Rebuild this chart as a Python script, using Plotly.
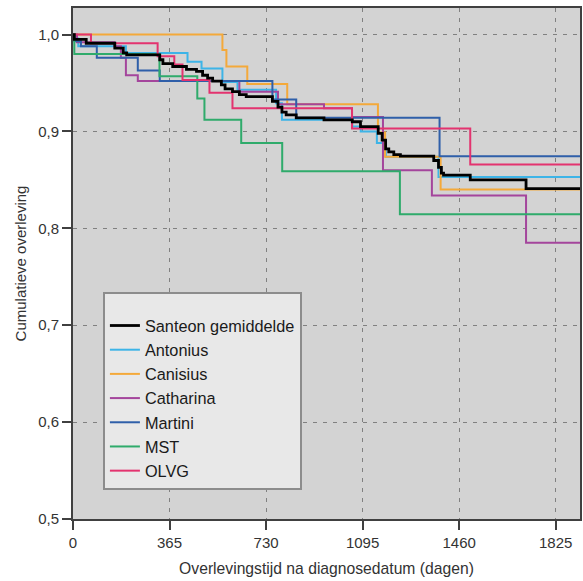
import plotly.graph_objects as go

# ---- data (days, cumulative survival) ----
follow_up_end = 1917

santeon_days = [0, 5, 50, 158, 190, 203, 328, 340, 377, 429, 467, 490, 509, 528, 561, 575, 603, 629, 655,
                754, 775, 790, 806, 844, 949, 1056, 1087, 1154, 1169, 1182, 1194, 1213, 1238, 1364, 1382,
                1393, 1401, 1502, 1713]
santeon_surv = [1.0, 0.995, 0.991, 0.986, 0.981, 0.979, 0.974, 0.970, 0.967, 0.964, 0.962, 0.958, 0.955, 0.952,
                0.948, 0.944, 0.941, 0.938, 0.936, 0.931, 0.925, 0.920, 0.917, 0.914, 0.912, 0.910, 0.905,
                0.898, 0.891, 0.882, 0.879, 0.876, 0.8745, 0.870, 0.863, 0.857, 0.855, 0.850, 0.841]

antonius_days = [0, 5, 20, 200, 433, 486, 565, 622, 768, 790, 1056, 1088, 1149, 1183, 1382]
antonius_surv = [1.0, 0.996, 0.988, 0.981, 0.972, 0.965, 0.951, 0.943, 0.929, 0.912, 0.905, 0.900, 0.888, 0.874, 0.853]

canisius_days = [0, 565, 580, 659, 810, 1153, 1180, 1390]
canisius_surv = [1.0, 0.984, 0.967, 0.949, 0.928, 0.899, 0.874, 0.840]

catharina_days = [0, 15, 157, 181, 200, 245, 629, 775, 949, 1055, 1172, 1357, 1713]
catharina_surv = [1.0, 0.992, 0.988, 0.976, 0.958, 0.952, 0.941, 0.928, 0.924, 0.915, 0.860, 0.834, 0.785]

martini_days = [0, 5, 30, 90, 245, 328, 754, 844, 1386]
martini_surv = [1.0, 0.993, 0.988, 0.976, 0.963, 0.952, 0.933, 0.914, 0.8745]

mst_days = [0, 5, 327, 470, 497, 636, 791, 1236]
mst_surv = [1.0, 0.980, 0.957, 0.934, 0.912, 0.888, 0.859, 0.8145]

olvg_days = [0, 68, 320, 383, 414, 516, 603, 1055, 1502]
olvg_surv = [1.0, 0.991, 0.9775, 0.969, 0.953, 0.940, 0.924, 0.903, 0.866]

series_names = ["Santeon gemiddelde", "Antonius", "Canisius", "Catharina", "Martini", "MST", "OLVG"]
series_days = [santeon_days, antonius_days, canisius_days, catharina_days, martini_days, mst_days, olvg_days]
series_surv = [santeon_surv, antonius_surv, canisius_surv, catharina_surv, martini_surv, mst_surv, olvg_surv]
series_colors = ["#000000", "#3db4e7", "#f4a93a", "#a4459c", "#2f5fa9", "#2fab6b", "#e3336f"]
series_widths = [2.8, 2, 2, 2, 2, 2, 2]

x_tickvals = [0, 365, 730, 1095, 1460, 1825]
x_ticktext = ["0", "365", "730", "1095", "1460", "1825"]
y_tickvals = [0.5, 0.6, 0.7, 0.8, 0.9, 1.0]
y_ticktext = ["0,5", "0,6", "0,7", "0,8", "0,9", "1,0"]

FONT = "Liberation Sans, Arial, sans-serif"

fig = go.Figure()
# draw santeon last so it is on top, but keep legend order
order = [1, 2, 3, 4, 5, 6, 0]
for i in order:
    xs = list(series_days[i]) + [follow_up_end]
    ys = list(series_surv[i]) + [series_surv[i][-1]]
    fig.add_trace(go.Scatter(
        x=xs, y=ys, mode="lines", name=series_names[i],
        line=dict(color=series_colors[i], width=series_widths[i], shape="hv"),
        legendrank=i + 1,
    ))

fig.update_layout(
    width=583, height=581,
    margin=dict(l=73, r=1, t=8, b=62),
    paper_bgcolor="white",
    plot_bgcolor="#d3d3d3",
    font=dict(family=FONT, color="#333333"),
    showlegend=True,
    legend=dict(
        x=0.059, y=0.444, xanchor="left", yanchor="top",
        bgcolor="#e8e8e8", bordercolor="#8c8c8c", borderwidth=2,
        font=dict(size=16.3, color="#1a1a1a", family=FONT),
        title=dict(text=" ", font=dict(size=11)),
        itemwidth=30,
        tracegroupgap=0,
    ),
)
fig.update_xaxes(
    range=[0, follow_up_end],
    tickvals=x_tickvals, ticktext=x_ticktext,
    tickfont=dict(size=15, color="#333333"),
    ticks="outside", ticklen=9, tickcolor="#404040", tickwidth=1.5,
    showline=True, linecolor="#404040", linewidth=2, mirror=True,
    showgrid=True, gridcolor="#808080", gridwidth=1, griddash="4px,6px",
    zeroline=False,
    title=dict(text="Overlevingstijd na diagnosedatum (dagen)", font=dict(size=15.7, color="#333333"), standoff=13),
)
fig.update_yaxes(
    range=[0.5, 1.0274],
    tickvals=y_tickvals, ticktext=y_ticktext,
    tickfont=dict(size=15, color="#333333"),
    ticks="outside", ticklen=9, tickcolor="#404040", tickwidth=1.5,
    showline=True, linecolor="#404040", linewidth=2, mirror=True,
    showgrid=True, gridcolor="#808080", gridwidth=1, griddash="4px,6px",
    zeroline=False,
    title=dict(text="Cumulatieve overleving", font=dict(size=15, color="#333333"), standoff=8),
)

fig.write_html("out.html")
